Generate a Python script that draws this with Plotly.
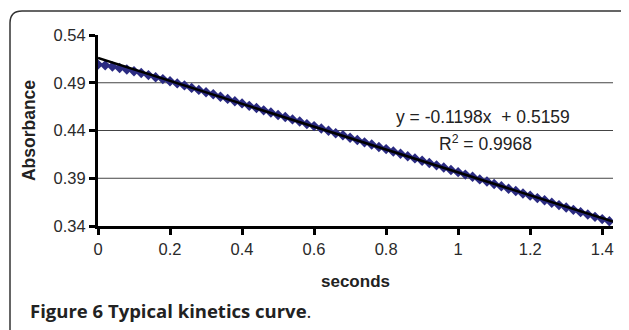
import plotly.graph_objects as go

# ---- data ----
seconds = [round(0.02 * i, 2) for i in range(72)]
absorbance = [
    0.5090, 0.5082, 0.5070, 0.5055, 0.5038, 0.5020, 0.5002, 0.4980, 0.4958, 0.4938,
    0.4915, 0.4893, 0.4872, 0.4846, 0.4825, 0.4800, 0.4779, 0.4753, 0.4731, 0.4706,
    0.4684, 0.4658, 0.4636, 0.4611, 0.4589, 0.4563, 0.4541, 0.4516, 0.4494, 0.4467,
    0.4446, 0.4421, 0.4398, 0.4371, 0.4350, 0.4324, 0.4301, 0.4276, 0.4253, 0.4228,
    0.4205, 0.4180, 0.4157, 0.4131, 0.4108, 0.4083, 0.4060, 0.4035, 0.4012, 0.3986,
    0.3964, 0.3938, 0.3915, 0.3888, 0.3866, 0.3840, 0.3816, 0.3790, 0.3767, 0.3741,
    0.3718, 0.3692, 0.3669, 0.3643, 0.3619, 0.3594, 0.3569, 0.3545, 0.3520, 0.3496,
    0.3472, 0.3450,
]
trend_slope = -0.1198
trend_intercept = 0.5159
trend_x = [0.0, 1.43]
trend_y = [trend_intercept + trend_slope * x for x in trend_x]

x_ticks = [0, 0.2, 0.4, 0.6, 0.8, 1, 1.2, 1.4]
x_tick_labels = ["0", "0.2", "0.4", "0.6", "0.8", "1", "1.2", "1.4"]
y_ticks = [0.34, 0.39, 0.44, 0.49, 0.54]
y_tick_labels = ["0.34", "0.39", "0.44", "0.49", "0.54"]
y_gridlines = [0.39, 0.44, 0.49]

equation_text = "y = -0.1198x  + 0.5159"
r2_text = "R<sup>2</sup> = 0.9968"
caption_bold = "Figure 6 Typical kinetics curve"

# ---- layout geometry (pixels; page body adds an 8px offset) ----
OFF = 8
W, H = 629 - OFF, 330 - OFF
L, T = 98 - OFF, 35 - OFF
R = W - (613 - OFF)
B = H - (226 - OFF)
pw, ph = W - L - R, H - T - B

def px(x):
    return (x - OFF - L) / pw

def py(y):
    return (H - B - (y - OFF)) / ph

fig = go.Figure()
fig.add_trace(go.Scatter(
    x=seconds, y=absorbance, mode="markers",
    marker=dict(symbol="diamond", size=8, color="#2b2b82", line=dict(width=0)),
    showlegend=False, hoverinfo="skip"))
fig.add_trace(go.Scatter(
    x=trend_x, y=trend_y, mode="lines",
    line=dict(color="black", width=2.5), showlegend=False, hoverinfo="skip"))

shapes = []
for g in y_gridlines:
    shapes.append(dict(type="line", xref="paper", yref="y", x0=0, x1=1, y0=g, y1=g,
                       line=dict(color="#444", width=1), layer="below"))

# rounded frame around the figure
r = 12
x0f, y0f, x1f, y1f = 10, 11, 640, 345
path = (f"M {px(x0f)},{py(y1f)} L {px(x0f)},{py(y0f + r)} "
        f"Q {px(x0f)},{py(y0f)} {px(x0f + r)},{py(y0f)} "
        f"L {px(x1f - r)},{py(y0f)} Q {px(x1f)},{py(y0f)} {px(x1f)},{py(y0f + r)} "
        f"L {px(x1f)},{py(y1f)}")
shapes.append(dict(type="path", xref="paper", yref="paper", path=path,
                   line=dict(color="#333", width=1.5)))

FONT = "Liberation Sans, Arial"
tickfont = dict(family=FONT, size=16.5, color="#2a2a2a")
fig.update_layout(
    width=W, height=H, margin=dict(l=L, r=R, t=T, b=B),
    paper_bgcolor="white", plot_bgcolor="white",
    shapes=shapes,
    xaxis=dict(range=[0, 1.43], tickvals=x_ticks, ticktext=x_tick_labels,
               showgrid=False, zeroline=False, showline=True, linecolor="black", linewidth=3,
               ticks="outside", ticklen=6, tickwidth=3, tickcolor="black",
               tickfont=tickfont,
               title=dict(text="<b>seconds</b>", font=dict(family=FONT, size=17, color="#222"),
                          standoff=19)),
    yaxis=dict(range=[0.34, 0.54], tickvals=y_ticks, ticktext=y_tick_labels,
               showgrid=False, zeroline=False, showline=True, linecolor="black", linewidth=3,
               ticks="outside", ticklen=6, tickwidth=3, tickcolor="black",
               tickfont=tickfont,
               title=dict(text="<b>Absorbance</b>", font=dict(family=FONT, size=17.5, color="#222"),
                          standoff=14)),
    annotations=[
        dict(xref="paper", yref="paper", x=px(483), y=py(117), text=equation_text,
             showarrow=False, font=dict(family=FONT, size=17.5, color="#222"),
             xanchor="center", yanchor="middle"),
        dict(xref="paper", yref="paper", x=px(485), y=py(143), text=r2_text,
             showarrow=False, font=dict(family=FONT, size=17.5, color="#222"),
             xanchor="center", yanchor="middle"),
        dict(xref="paper", yref="paper", x=px(28), y=py(310), xanchor="left", yanchor="middle",
             text=f"<b>{caption_bold}</b>.", showarrow=False,
             font=dict(family="Open Sans", size=18.5, color="#222")),
    ],
)

fig.write_html("out.html")
